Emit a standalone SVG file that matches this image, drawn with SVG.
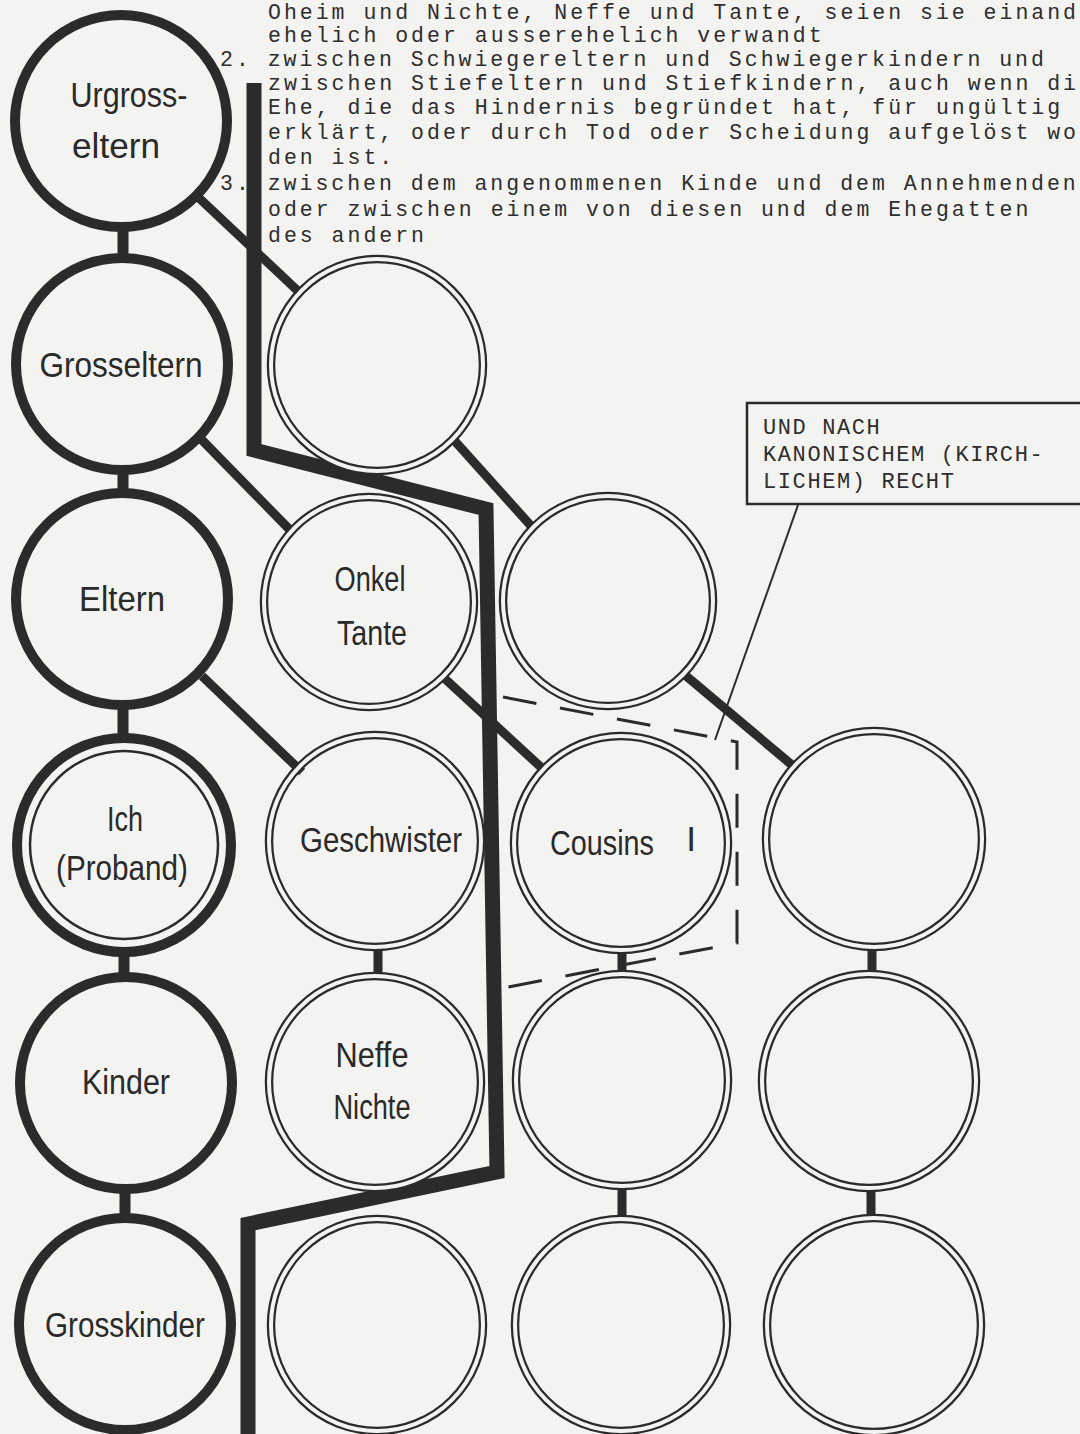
<svg xmlns="http://www.w3.org/2000/svg" width="1080" height="1434" viewBox="0 0 1080 1434">
<style>
  .bg{fill:#f3f3f1}
  .type{font-family:"Liberation Mono","DejaVu Sans Mono",monospace;font-size:21.5px;letter-spacing:3px;fill:#2e2e2e}
  .box{font-family:"Liberation Mono","DejaVu Sans Mono",monospace;font-size:22px;letter-spacing:1.6px;fill:#2e2e2e}
  .lbl{font-family:"Liberation Sans","DejaVu Sans",sans-serif;font-size:35px;fill:#2a2a2a;text-anchor:middle}
  .thick{fill:none;stroke:#2b2b2b;stroke-width:10}
  .thin{fill:none;stroke:#2b2b2b;stroke-width:2.5}
  .rd{fill:none;stroke:#2b2b2b;stroke-width:8.5}
  .rl{fill:none;stroke:#f3f3f1;stroke-width:4}
  .conn{fill:none;stroke:#2b2b2b;stroke-width:9}
  .bar{fill:none;stroke:#2b2b2b;stroke-width:11}
  .border{fill:none;stroke:#2b2b2b;stroke-width:15;stroke-linejoin:miter}
  .dash{fill:none;stroke:#2b2b2b;stroke-width:3;stroke-dasharray:34 24}
  .lead{fill:none;stroke:#2b2b2b;stroke-width:2}
</style>
<rect class="bg" x="0" y="0" width="1080" height="1434"/>

<g id="legal-text" class="type">
  <text x="268" y="19">Oheim und Nichte, Neffe und Tante, seien sie einand</text>
  <text x="268" y="42">ehelich oder ausserehelich verwandt</text>
  <text x="220" y="66">2. zwischen Schwiegereltern und Schwiegerkindern und</text>
  <text x="268" y="90">zwischen Stiefeltern und Stiefkindern, auch wenn di</text>
  <text x="268" y="114">Ehe, die das Hindernis begründet hat, für ungültig</text>
  <text x="268" y="139">erklärt, oder durch Tod oder Scheidung aufgelöst wo</text>
  <text x="268" y="164">den ist.</text>
  <text x="220" y="190">3. zwischen dem angenommenen Kinde und dem Annehmenden</text>
  <text x="268" y="216">oder zwischen einem von diesen und dem Ehegatten</text>
  <text x="268" y="242">des andern</text>
</g>

<g id="connectors">
  <line class="bar" x1="123" y1="226" x2="123" y2="260"/>
  <line class="bar" x1="123" y1="468" x2="123" y2="494"/>
  <line class="bar" x1="123" y1="704" x2="123" y2="740"/>
  <line class="bar" x1="124" y1="950" x2="124" y2="978"/>
  <line class="bar" x1="125" y1="1188" x2="125" y2="1218"/>
  <line class="conn" x1="198" y1="197" x2="299" y2="292"/>
  <line class="conn" x1="200" y1="438" x2="292" y2="532"/>
  <line class="conn" x1="453" y1="439" x2="532" y2="527"/>
  <line class="conn" x1="202" y1="676" x2="302" y2="772"/>
  <line class="conn" x1="443" y1="677" x2="544" y2="770"/>
  <line class="conn" x1="685" y1="675" x2="792" y2="765"/>
  <line class="bar" x1="378" y1="946" x2="378" y2="978" style="stroke-width:9"/>
  <line class="bar" x1="622" y1="948" x2="622" y2="975" style="stroke-width:9"/>
  <line class="bar" x1="872" y1="943" x2="872" y2="976" style="stroke-width:9"/>
  <line class="bar" x1="622" y1="1186" x2="622" y2="1220" style="stroke-width:9"/>
  <line class="bar" x1="871" y1="1186" x2="871" y2="1220" style="stroke-width:9"/>
  <path id="boundary" class="border" d="M254 83 L254 450 L486 509 L497 1172 L248 1224 L248 1434"/>
  <path id="canon-boundary" class="dash" d="M503 697 L737 742 L737 943 L503 988"/>
  <line class="lead" x1="798" y1="505" x2="715" y2="740"/>
</g>

<g id="n-urgrosseltern">
  <circle class="thick" cx="121" cy="121" r="106"/>
  <text class="lbl" x="129" y="107" textLength="117" lengthAdjust="spacingAndGlyphs">Urgross-</text>
  <text class="lbl" x="116" y="158" textLength="88" lengthAdjust="spacingAndGlyphs">eltern</text>
</g>
<g id="n-grosseltern">
  <circle class="thick" cx="122" cy="364" r="106"/>
  <text class="lbl" x="121" y="377" textLength="163" lengthAdjust="spacingAndGlyphs">Grosseltern</text>
</g>
<g id="n-eltern">
  <circle class="thick" cx="122" cy="599" r="106"/>
  <text class="lbl" x="122" y="611" textLength="86" lengthAdjust="spacingAndGlyphs">Eltern</text>
</g>
<g id="n-ich">
  <circle class="thick" cx="124" cy="845" r="107"/>
  <circle class="thin" cx="124" cy="845" r="94"/>
  <text class="lbl" x="125" y="831" textLength="36" lengthAdjust="spacingAndGlyphs">Ich</text>
  <text class="lbl" x="122" y="880" textLength="132" lengthAdjust="spacingAndGlyphs">(Proband)</text>
</g>
<g id="n-kinder">
  <circle class="thick" cx="126" cy="1083" r="106"/>
  <text class="lbl" x="126" y="1094" textLength="88" lengthAdjust="spacingAndGlyphs">Kinder</text>
</g>
<g id="n-grosskinder">
  <circle class="thick" cx="125" cy="1324" r="106"/>
  <text class="lbl" x="125" y="1337" textLength="160" lengthAdjust="spacingAndGlyphs">Grosskinder</text>
</g>

<g id="n-c2r1">
  <circle class="rd" cx="377" cy="365" r="106"/><circle class="rl" cx="377" cy="365" r="106"/>
</g>
<g id="n-onkel-tante">
  <circle class="rd" cx="369" cy="602" r="105"/><circle class="rl" cx="369" cy="602" r="105"/>
  <text class="lbl" x="370" y="591" textLength="71" lengthAdjust="spacingAndGlyphs">Onkel</text>
  <text class="lbl" x="372" y="645" textLength="70" lengthAdjust="spacingAndGlyphs">Tante</text>
</g>
<g id="n-geschwister">
  <circle class="rd" cx="375" cy="841" r="106"/><circle class="rl" cx="375" cy="841" r="106"/>
  <text class="lbl" x="381" y="852" textLength="162" lengthAdjust="spacingAndGlyphs">Geschwister</text>
</g>
<g id="n-neffe-nichte">
  <circle class="rd" cx="375" cy="1082" r="106"/><circle class="rl" cx="375" cy="1082" r="106"/>
  <text class="lbl" x="372" y="1067" textLength="73" lengthAdjust="spacingAndGlyphs">Neffe</text>
  <text class="lbl" x="372" y="1119" textLength="77" lengthAdjust="spacingAndGlyphs">Nichte</text>
</g>
<g id="n-c2r5">
  <circle class="rd" cx="377" cy="1325" r="106"/><circle class="rl" cx="377" cy="1325" r="106"/>
</g>

<g id="n-c3r2">
  <circle class="rd" cx="608" cy="601" r="105"/><circle class="rl" cx="608" cy="601" r="105"/>
</g>
<g id="n-cousins">
  <circle class="rd" cx="621" cy="843" r="107"/><circle class="rl" cx="621" cy="843" r="107"/>
  <text class="lbl" x="602" y="855" textLength="104" lengthAdjust="spacingAndGlyphs">Cousins</text>
  <text class="lbl" x="691" y="851">I</text>
</g>
<g id="n-c3r4">
  <circle class="rd" cx="622" cy="1080" r="106"/><circle class="rl" cx="622" cy="1080" r="106"/>
</g>
<g id="n-c3r5">
  <circle class="rd" cx="621" cy="1325" r="106"/><circle class="rl" cx="621" cy="1325" r="106"/>
</g>

<g id="n-c4r3">
  <circle class="rd" cx="874" cy="839" r="108"/><circle class="rl" cx="874" cy="839" r="108"/>
</g>
<g id="n-c4r4">
  <circle class="rd" cx="869" cy="1081" r="107"/><circle class="rl" cx="869" cy="1081" r="107"/>
</g>
<g id="n-c4r5">
  <circle class="rd" cx="874" cy="1325" r="107"/><circle class="rl" cx="874" cy="1325" r="107"/>
</g>

<g id="n-callout">
  <path d="M1080 403 H747 V504 H1080" fill="none" stroke="#2b2b2b" stroke-width="2.5"/>
  <text class="box" x="763" y="434">UND NACH</text>
  <text class="box" x="763" y="461">KANONISCHEM (KIRCH-</text>
  <text class="box" x="763" y="488">LICHEM) RECHT</text>
</g>
</svg>
